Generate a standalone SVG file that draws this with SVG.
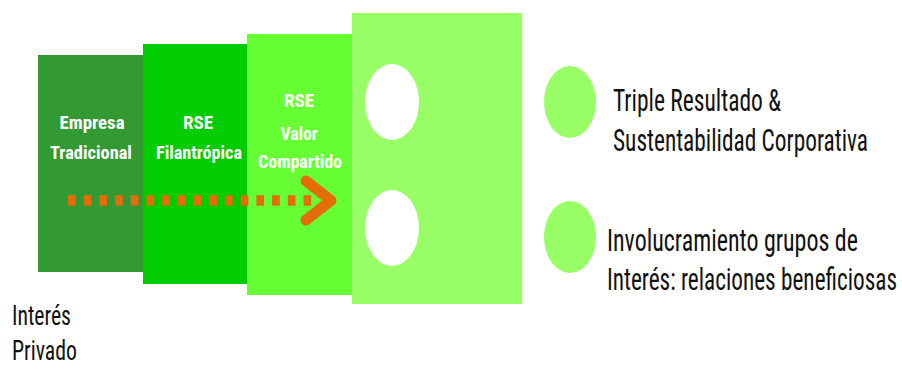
<svg xmlns="http://www.w3.org/2000/svg" width="902" height="374" viewBox="0 0 902 374">
<style>
.lbl{font-family:"Liberation Sans Narrow","Roboto Condensed","Liberation Sans",Arial,sans-serif;font-weight:bold;font-size:19px;fill:#ffffff;text-anchor:middle}
.txt{font-family:"Liberation Sans Narrow","Roboto Condensed","Liberation Sans",Arial,sans-serif;font-size:23px;fill:#111111}
.side{font-family:"Liberation Sans Narrow","Roboto Condensed","Liberation Sans",Arial,sans-serif;font-size:27px;fill:#111111}
</style>
<rect width="902" height="374" fill="#ffffff"/>
<g id="stage4">
<rect x="352" y="13" width="170" height="291" fill="#99ff66"/>
<ellipse cx="392" cy="102" rx="27" ry="38" fill="#ffffff"/>
<ellipse cx="392" cy="228" rx="27" ry="38" fill="#ffffff"/>
</g>
<g id="stage1">
<rect x="38" y="55" width="105" height="217" fill="#339933"/>
<text class="lbl" x="92" y="129" textLength="65" lengthAdjust="spacingAndGlyphs">Empresa</text>
<text class="lbl" x="91" y="159" textLength="82" lengthAdjust="spacingAndGlyphs">Tradicional</text>
</g>
<g id="stage2">
<rect x="143" y="44" width="104" height="240" fill="#00cc00"/>
<text class="lbl" x="198" y="129" textLength="30" lengthAdjust="spacingAndGlyphs">RSE</text>
<text class="lbl" x="199" y="159" textLength="86" lengthAdjust="spacingAndGlyphs">Filantrópica</text>
</g>
<g id="stage3">
<rect x="247" y="34" width="105" height="261" fill="#66ff33"/>
<text class="lbl" x="299" y="107" textLength="30" lengthAdjust="spacingAndGlyphs">RSE</text>
<text class="lbl" x="299" y="140" textLength="37" lengthAdjust="spacingAndGlyphs">Valor</text>
<text class="lbl" x="300" y="168" textLength="84" lengthAdjust="spacingAndGlyphs">Compartido</text>
</g>
<g id="connectors">
<line x1="68" y1="200.5" x2="312" y2="200.5" stroke="#e46c0a" stroke-width="10.5" stroke-dasharray="7.7 8"/>
<polyline points="306,181 331,200.5 306,220" fill="none" stroke="#e46c0a" stroke-width="11" stroke-linecap="round" stroke-linejoin="round"/>
</g>
<g id="item1">
<ellipse cx="570" cy="102" rx="26" ry="36" fill="#99ff66"/>
<text class="txt" transform="translate(613,111) scale(1,1.35)" textLength="168" lengthAdjust="spacingAndGlyphs">Triple Resultado &amp;</text>
<text class="txt" transform="translate(613,151) scale(1,1.35)" textLength="255" lengthAdjust="spacingAndGlyphs">Sustentabilidad Corporativa</text>
</g>
<g id="item2">
<ellipse cx="570" cy="237" rx="26" ry="36" fill="#99ff66"/>
<text class="txt" transform="translate(607,251) scale(1,1.35)" textLength="251" lengthAdjust="spacingAndGlyphs">Involucramiento grupos de</text>
<text class="txt" transform="translate(607,290) scale(1,1.35)" textLength="290" lengthAdjust="spacingAndGlyphs">Interés: relaciones beneficiosas</text>
</g>
<g id="private">
<text class="side" x="12" y="325" textLength="59" lengthAdjust="spacingAndGlyphs">Interés</text>
<text class="side" x="12" y="360" textLength="65" lengthAdjust="spacingAndGlyphs">Privado</text>
</g>
</svg>
